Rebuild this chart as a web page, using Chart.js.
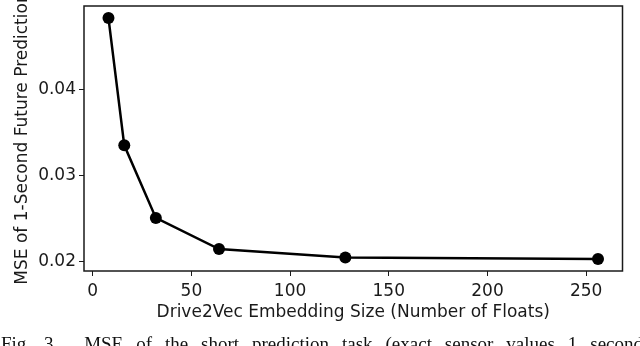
<!DOCTYPE html>
<html>
<head>
<meta charset="utf-8">
<script src="https://cdn.jsdelivr.net/npm/chart.js@4.4.0/dist/chart.umd.min.js"></script>
<style>
  html, body { margin: 0; padding: 0; background: #fff; }
  #wrap { position: relative; width: 640px; height: 346px; overflow: hidden; }
  #caption {
    position: absolute; left: 1px; top: 334px; width: 642px;
    font-family: "Liberation Serif", "Times New Roman", serif;
    font-size: 19px; line-height: 19px; color: #111;
    white-space: nowrap; text-align: justify; text-align-last: justify;
  }
</style>
</head>
<body>
<div id="wrap">
  <canvas id="chart" width="640" height="346"></canvas>
  <div id="caption">Fig. 3.&nbsp; MSE of the short prediction task (exact sensor values 1 second</div>
</div>
<script>
    // data
    var embedSizes = [8, 16, 32, 64, 128, 256];
    var mseValues = [0.0483, 0.0335, 0.02505, 0.02143, 0.02046, 0.02028];
    var xTicks = [0, 50, 100, 150, 200, 250];
    var yTicks = [0.02, 0.03, 0.04];

    var tickFont = { family: "DejaVu Sans", size: 17 };
    var ink = "#1a1a1a";

    // frame round the plot area
    var boxPlugin = {
        id: 'box',
        afterDraw: function (chart) {
            var a = chart.chartArea;
            var ctx = chart.ctx;
            ctx.save();
            ctx.strokeStyle = ink;
            ctx.lineWidth = 1.5;
            ctx.strokeRect(a.left, a.top, a.right - a.left, a.bottom - a.top);
            ctx.restore();
        }
    };

    var ctx = document.getElementById('chart').getContext('2d');
    var myChart = new Chart(ctx, {
        type: 'line',
        data: {
            datasets: [{
                data: embedSizes.map(function (s, i) { return { x: s, y: mseValues[i] }; }),
                borderColor: '#000',
                backgroundColor: '#000',
                borderWidth: 2.5,
                pointRadius: 6,
                pointBorderWidth: 0,
                pointBackgroundColor: '#000',
                tension: 0,
                fill: false
            }]
        },
        options: {
            responsive: false,
            animation: false,
            layout: { padding: { top: 4, right: 17.5, left: 0, bottom: 0 } },
            plugins: {
                legend: { display: false },
                tooltip: { enabled: false }
            },
            scales: {
                x: {
                    type: 'linear',
                    min: -4.4,
                    max: 268.4,
                    afterBuildTicks: function (axis) {
                        axis.ticks = xTicks.map(function (v) { return { value: v }; });
                    },
                    afterFit: function (axis) {
                        axis.height = 75;
                        axis.paddingLeft = 0;
                        axis.paddingRight = 0;
                    },
                    grid: { drawOnChartArea: false, drawTicks: true, tickLength: 5, color: ink, lineWidth: 1 },
                    border: { display: false },
                    ticks: { font: tickFont, color: ink, padding: 5, maxRotation: 0 },
                    title: {
                        display: true,
                        text: 'Drive2Vec Embedding Size (Number of Floats)',
                        font: tickFont,
                        color: ink,
                        padding: { top: 0, bottom: 23 }
                    }
                },
                y: {
                    type: 'linear',
                    min: 0.01888,
                    max: 0.0497,
                    afterBuildTicks: function (axis) {
                        axis.ticks = yTicks.map(function (v) { return { value: v }; });
                    },
                    afterFit: function (axis) {
                        axis.width = 84;
                        axis.paddingTop = 0;
                        axis.paddingBottom = 0;
                    },
                    grid: { drawOnChartArea: false, drawTicks: true, tickLength: 5, color: ink, lineWidth: 1 },
                    border: { display: false },
                    ticks: {
                        font: tickFont, color: ink, padding: 3,
                        callback: function (v) { return v.toFixed(2); }
                    },
                    title: {
                        display: true,
                        text: 'MSE of 1-Second Future Prediction',
                        font: tickFont,
                        color: ink,
                        padding: { top: 12, bottom: 0 }
                    }
                }
            }
        },
        plugins: [boxPlugin]
    });
</script>
</body>
</html>
